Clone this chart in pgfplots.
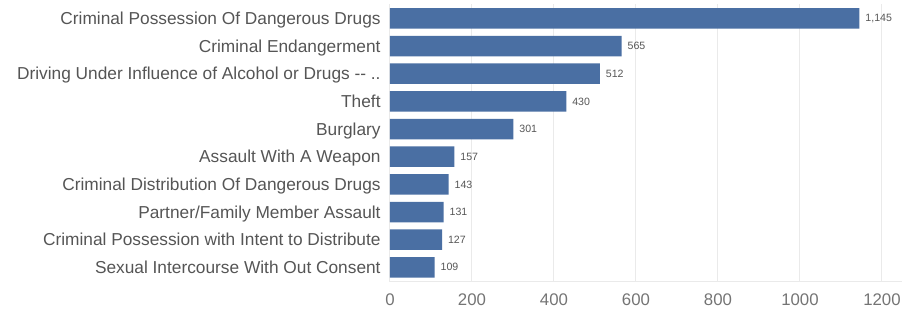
\documentclass[border=0pt]{standalone}
\usepackage{pgfplots}
\pgfplotsset{compat=1.18}
\usepackage{fontspec}
\setmainfont{Liberation Sans}
\definecolor{barblue}{HTML}{4A6FA3}
\definecolor{labelgray}{HTML}{555555}
\definecolor{tickgray}{HTML}{747474}
\definecolor{gridgray}{HTML}{EAEAEA}
\begin{document}
\begin{tikzpicture}
\begin{axis}[
  at={(0,0)}, anchor=south west,
  scale only axis, width=256.25pt, height=138.85pt,
  xbar, bar width=10.25pt,
  xmin=0, xmax=1250, ymin=-0.52, ymax=9.52, y dir=reverse,
  ytick={0,...,9},
  yticklabels={Criminal Possession Of Dangerous Drugs, Criminal Endangerment, Driving Under Influence of Alcohol or Drugs -{}- .., Theft, Burglary, Assault With A Weapon, Criminal Distribution Of Dangerous Drugs, Partner/Family Member Assault, Criminal Possession with Intent to Distribute, Sexual Intercourse With Out Consent},
  xtick={0,200,400,600,800,1000,1200},
  xticklabels={0,200,400,600,800,1000,1200},
  axis x line*=bottom, axis y line*=left,
  x axis line style={draw=gridgray, line width=0.5pt},
  y axis line style={draw=none},
  xmajorgrids, grid style={gridgray, line width=0.5pt},
  major tick length=0pt,
  /pgf/number format/assume math mode=true,
  yticklabel style={font=\fontsize{8.65pt}{10pt}\selectfont, text=labelgray, inner sep=0pt, xshift=-4.5pt, text height=6.2pt, text depth=0pt, anchor=east},
  xticklabel style={font=\fontsize{8.4pt}{10pt}\selectfont, text=tickgray, inner sep=0pt, yshift=-5.6pt},
  nodes near coords,
  nodes near coords style={font=\fontsize{5.3pt}{6pt}\selectfont, text=labelgray, inner sep=0pt, anchor=west, xshift=2.8pt, /pgf/number format/1000 sep={,}, /pgf/number format/assume math mode=true},
]
\addplot[fill=barblue, draw=none] coordinates {
  (1145,0) (565,1) (512,2) (430,3) (301,4) (157,5) (143,6) (131,7) (127,8) (109,9)
};
\end{axis}
\pgfresetboundingbox
\path[use as bounding box] (-195pt,-15.65pt) rectangle (258.5pt,140.85pt);
\end{tikzpicture}
\end{document}
